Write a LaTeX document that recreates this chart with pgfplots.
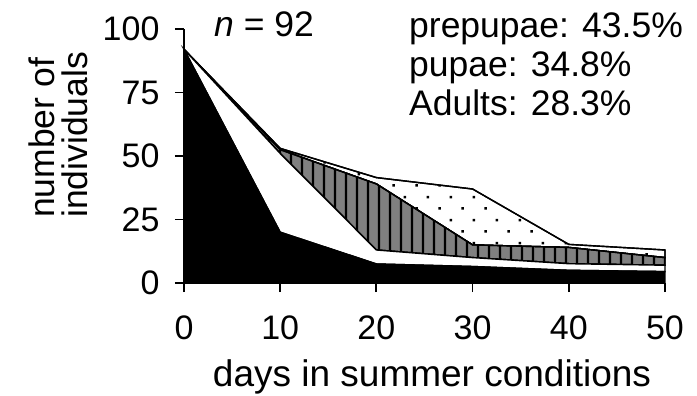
\documentclass[border=0pt]{standalone}
\usepackage{fontspec}
\setmainfont{Liberation Sans}
\usepackage{pgfplots}
\pgfplotsset{compat=1.18}
\usetikzlibrary{patterns}
\pgfdeclarepatternformonly{vhatch}{\pgfpoint{0pt}{0pt}}{\pgfpoint{11pt}{11pt}}{\pgfpoint{11pt}{11pt}}{%
  \pgfsetlinewidth{2.6pt}%
  \pgfpathmoveto{\pgfpoint{5.5pt}{-1pt}}\pgfpathlineto{\pgfpoint{5.5pt}{12pt}}\pgfusepath{stroke}}
\pgfdeclarepatternformonly{sdots}{\pgfpoint{0pt}{0pt}}{\pgfpoint{22.7pt}{22.7pt}}{\pgfpoint{22.7pt}{22.7pt}}{%
  \pgfpathrectangle{\pgfpoint{4.4pt}{4.4pt}}{\pgfpoint{2.6pt}{2.6pt}}%
  \pgfpathrectangle{\pgfpoint{15.75pt}{15.75pt}}{\pgfpoint{2.6pt}{2.6pt}}%
  \pgfusepath{fill}}
\begin{document}
\begin{tikzpicture}
\path[use as bounding box] (-184pt,-113pt) rectangle (513pt,283pt);
\begin{axis}[
  scale only axis, width=481pt, height=254pt,
  xmin=0, xmax=50, ymin=0, ymax=100,
  axis x line*=bottom, axis y line*=left,
  axis line style={line width=1.8pt, black},
  xtick={0,10,20,30,40,50}, ytick={0,25,50,75,100},
  tick align=outside, major tick length=9pt,
  every tick/.style={line width=1.8pt, black},
  tick label style={font=\fontsize{34}{40}\selectfont},
  xticklabel style={yshift=-20pt},
  yticklabel style={xshift=-12pt},
  /pgf/number format/assume math mode=true,
  stack plots=y, clip=false,
]
\addplot[fill=black, draw=black, line width=1.4pt] coordinates {(0,92) (10,20) (20,7.5) (30,6.5) (40,5) (50,4.5)} \closedcycle;
\addplot[fill=white, draw=black, line width=1.4pt] coordinates {(0,0) (10,31) (20,5.5) (30,3.5) (40,2.6) (50,2.5)} \closedcycle;
\addplot[fill=gray, draw=black, line width=1.4pt, postaction={pattern=vhatch}] coordinates {(0,0) (10,1.5) (20,26) (30,5) (40,6.4) (50,3)} \closedcycle;
\addplot[fill=white, draw=black, line width=1.4pt, postaction={pattern=sdots}] coordinates {(0,0) (10,0.5) (20,2.5) (30,22) (40,1.2) (50,3)} \closedcycle;
\end{axis}
\begin{scope}[every node/.style={inner sep=0pt, font=\fontsize{35.5}{42}\selectfont}]
\node[anchor=base west] at (30pt,246pt) {\textit{n} = 92};
\node[anchor=base west] at (225pt,245pt) {prepupae: 43.5\%};
\node[anchor=base west] at (225pt,206pt) {pupae: 34.8\%};
\node[anchor=base west] at (225pt,167pt) {Adults: 28.3\%};
\node[anchor=base west, rotate=90] at (-129pt,65pt) {number of};
\node[anchor=base west, rotate=90] at (-96pt,65pt) {individuals};
\node[anchor=base, font=\fontsize{37}{44}\selectfont] at (248pt,-104pt) {days in summer conditions};
\end{scope}
\end{tikzpicture}
\end{document}
